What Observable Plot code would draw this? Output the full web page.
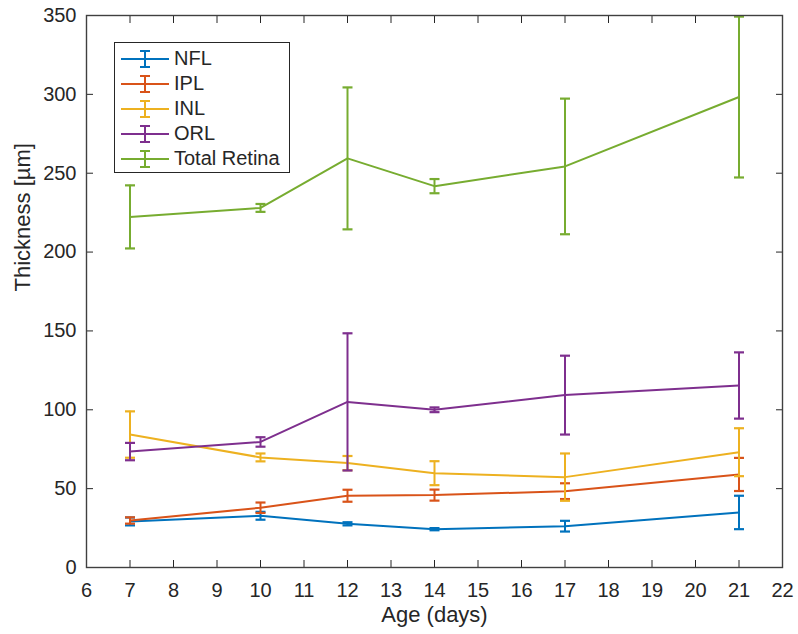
<!DOCTYPE html>
<html>
<head>
<meta charset="utf-8">
<script src="https://cdn.jsdelivr.net/npm/d3@7"></script>
<script src="https://cdn.jsdelivr.net/npm/@observablehq/plot@0.6"></script>
<style>
  html, body { margin: 0; padding: 0; background: #fff; }
  #wrap { position: relative; width: 798px; height: 634px; font-family: "Liberation Sans", Arial, sans-serif; }
  #legend { position: absolute; left: 114px; top: 42px; width: 176px; height: 131px; border: 1px solid #262626; background: #fff; box-sizing: border-box; padding-top: 3px; }
  .item { display: flex; align-items: center; height: 25px; font-size: 20px; color: #262626; }
  .item svg { margin-left: 5px; margin-right: 4px; }
</style>
</head>
<body>
<div id="wrap"><div id="chart"></div><div id="legend"></div></div>
<script>
const ages = [7, 10, 12, 14, 17, 21];
const series = ["NFL", "IPL", "INL", "ORL", "Total Retina"];
const colors = ["#0072BD", "#D95319", "#EDB120", "#7E2F8E", "#77AC30"];
const nfl = [29.2, 32.8, 27.7, 24.3, 26.2, 34.9];
const nflErr = [2.5, 2.5, 1, 0.7, 3.4, 10.6];
const ipl = [29.8, 37.9, 45.5, 45.9, 48.4, 59.0];
const iplErr = [2, 3.3, 3.8, 3.5, 5, 10.5];
const inl = [84.3, 69.8, 66.2, 59.8, 57.3, 73.1];
const inlErr = [14.7, 2.5, 4.5, 7.6, 15, 15.2];
const orl = [73.5, 79.6, 105, 100, 109.3, 115.4];
const orlErr = [5.5, 3, 43.5, 1.5, 25, 21];
const total = [222.3, 228, 259.4, 241.8, 254.3, 298.3];
const totalErr = [20, 2.5, 45, 4.5, 43, 51];
const xTicks = d3.range(6, 23, 1);
const yTicks = d3.range(0, 351, 50);

const values = [nfl, ipl, inl, orl, total];
const errs = [nflErr, iplErr, inlErr, orlErr, totalErr];
const rows = [];
series.forEach((s, i) => ages.forEach((a, j) => rows.push({
  series: s, age: a, v: values[i][j], lo: values[i][j] - errs[i][j], hi: values[i][j] + errs[i][j]
})));

const capSymbol = {
  draw(context, size) {
    const w = Math.sqrt(size / Math.PI);
    context.moveTo(-w, 0);
    context.lineTo(w, 0);
  }
};

const marks = [];
series.forEach((s, i) => {
  const d = rows.filter(r => r.series === s);
  marks.push(
    Plot.ruleX(d, {x: "age", y1: "lo", y2: "hi", stroke: "series", strokeWidth: 2}),
    Plot.dot(d, {x: "age", y: "lo", symbol: capSymbol, r: 5, stroke: "series", strokeWidth: 2.2, fill: "none"}),
    Plot.dot(d, {x: "age", y: "hi", symbol: capSymbol, r: 5, stroke: "series", strokeWidth: 2.2, fill: "none"}),
    Plot.line(d, {x: "age", y: "v", stroke: "series", strokeWidth: 2})
  );
});

const axisColor = "#262626";
const chart = Plot.plot({
  width: 798,
  height: 634,
  marginLeft: 86,
  marginRight: 16,
  marginTop: 15,
  marginBottom: 67,
  style: {fontFamily: "'Liberation Sans', Arial, sans-serif", fontSize: "20px", color: axisColor, background: "#fff"},
  x: {domain: [6, 22], label: null},
  y: {domain: [0, 350], label: null},
  color: {domain: series, range: colors},
  marks: [
    Plot.axisX({ticks: xTicks, tickSize: -7, tickPadding: 22, stroke: axisColor, fill: axisColor, label: null}),
    Plot.axisX({anchor: "top", ticks: xTicks, tickSize: -7, tickFormat: () => "", stroke: axisColor, label: null}),
    Plot.axisY({ticks: yTicks, tickSize: -7, tickPadding: 17, stroke: axisColor, fill: axisColor, label: null}),
    Plot.axisY({anchor: "right", ticks: yTicks, tickSize: -7, tickFormat: () => "", stroke: axisColor, label: null}),
    ...marks,
    Plot.frame({stroke: "#404040", strokeWidth: 1.4}),
    Plot.text(["Age (days)"], {frameAnchor: "bottom", dy: 54, fontSize: 22, fill: axisColor}),
    Plot.text(["Thickness [µm]"], {frameAnchor: "left", dx: -64, rotate: -90, fontSize: 22, fill: axisColor})
  ]
});
document.getElementById("chart").appendChild(chart);

const legend = document.getElementById("legend");
series.forEach((s, i) => {
  const item = document.createElement("div");
  item.className = "item";
  item.innerHTML = `<svg width="50" height="20"><line x1="1" y1="10" x2="49" y2="10" stroke="${colors[i]}" stroke-width="2"/><line x1="25" y1="2" x2="25" y2="18" stroke="${colors[i]}" stroke-width="2"/><line x1="20" y1="2" x2="30" y2="2" stroke="${colors[i]}" stroke-width="2"/><line x1="20" y1="18" x2="30" y2="18" stroke="${colors[i]}" stroke-width="2"/></svg><span>${s}</span>`;
  legend.appendChild(item);
});
</script>
</body>
</html>
